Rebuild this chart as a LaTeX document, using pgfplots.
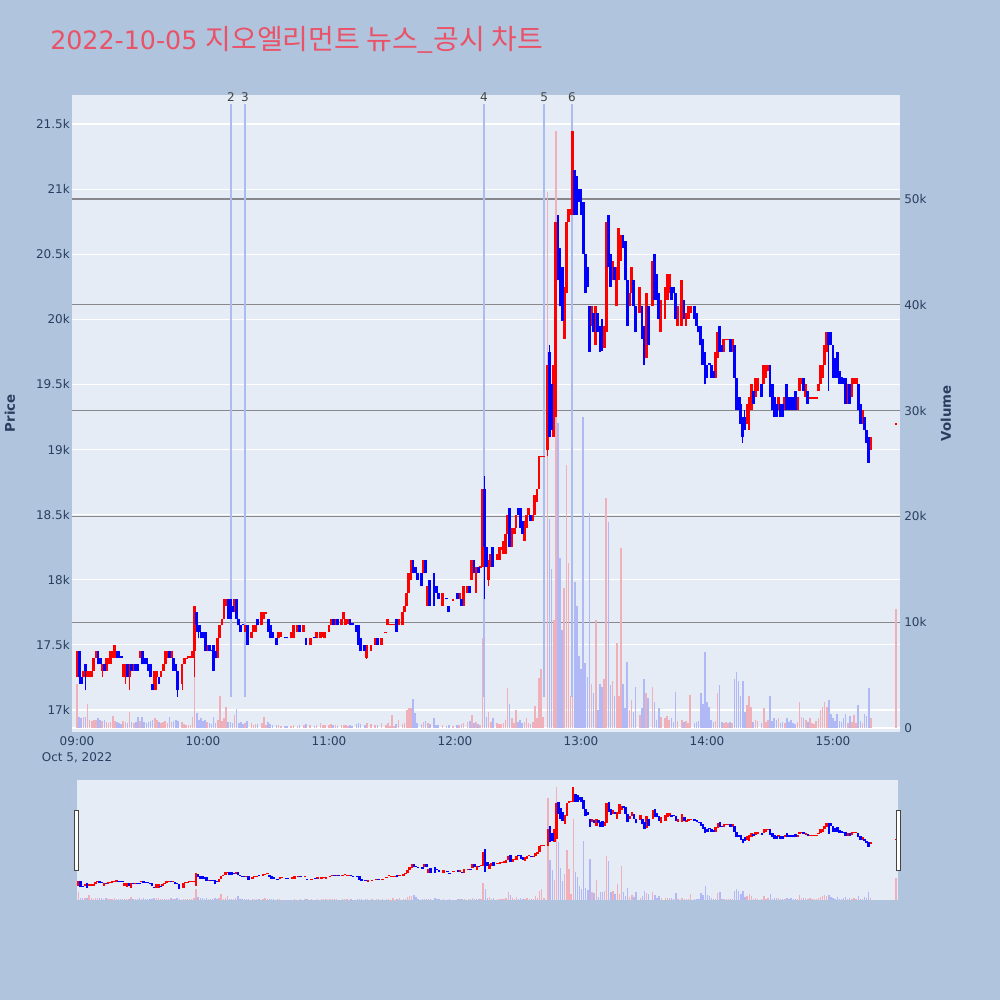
\documentclass[border=0pt]{standalone}
\usepackage{pgfplots}
\pgfplotsset{compat=1.18}
\usepackage{pgfplotstable}
\usepackage{fontspec}
\setmainfont{DejaVu Sans}
\newfontfamily\kr{Noto Sans CJK KR}
\definecolor{bgc}{RGB}{176,196,222}
\definecolor{plotbg}{RGB}{229,236,246}
\definecolor{tickc}{RGB}{42,63,95}
\definecolor{titlec}{RGB}{233,82,103}
\definecolor{vgray}{RGB}{135,135,140}
\definecolor{evline}{RGB}{172,188,240}
\definecolor{volred}{RGB}{240,176,186}
\definecolor{volblue}{RGB}{176,184,246}
\definecolor{labc}{RGB}{68,68,68}
\pgfplotstableread{
t o h l c v
0 17250 17450 17250 17450 4200
1 17450 17450 17200 17250 1000
2 17250 17250 17200 17200 900
3 17250 17300 17250 17300 1000
4 17350 17350 17150 17300 1000
5 17250 17300 17250 17300 2300
6 17250 17300 17250 17300 800
7 17250 17300 17250 17300 700
8 17300 17400 17300 17400 800
9 17400 17450 17400 17450 800
10 17450 17450 17350 17350 900
11 17400 17400 17350 17350 800
12 17300 17350 17250 17350 700
13 17350 17350 17300 17300 800
14 17300 17400 17300 17400 600
15 17350 17400 17350 17400 500
16 17350 17450 17350 17450 600
17 17400 17450 17400 17450 1100
18 17400 17500 17400 17500 700
19 17450 17450 17400 17400 600
20 17450 17450 17400 17400 500
21 17410 17410 17400 17400 400
22 17250 17350 17250 17350 700
23 17300 17350 17200 17350 600
24 17350 17350 17250 17250 500
25 17250 17350 17150 17350 1500
26 17350 17350 17300 17300 600
27 17300 17350 17300 17350 500
28 17350 17350 17300 17300 600
29 17350 17350 17300 17300 1000
30 17400 17450 17400 17450 700
31 17450 17450 17350 17350 1000
32 17400 17400 17350 17350 600
33 17400 17400 17350 17350 500
34 17350 17350 17300 17300 600
35 17350 17350 17250 17250 700
36 17200 17200 17150 17150 800
37 17150 17300 17150 17300 900
38 17250 17300 17150 17300 800
39 17250 17250 17200 17200 600
40 17250 17300 17250 17300 500
41 17300 17350 17300 17350 600
42 17350 17450 17350 17450 700
43 17400 17450 17400 17450 500
44 17450 17450 17400 17400 1000
45 17400 17450 17400 17450 600
46 17400 17400 17300 17300 700
47 17350 17350 17300 17300 800
48 17300 17300 17100 17150 700
50 17200 17350 17150 17350 600
51 17350 17400 17350 17400 400
52 17390 17400 17390 17400 300
53 17400 17410 17400 17410 300
54 17400 17410 17400 17410 300
55 17400 17450 17400 17450 1000
56 17450 17800 17250 17800 5500
57 17750 17750 17600 17650 1400
58 17650 17650 17550 17600 800
59 17600 17650 17550 17550 900
60 17600 17600 17550 17550 700
61 17600 17600 17450 17450 800
62 17450 17500 17450 17500 600
63 17500 17500 17450 17450 500
64 17460 17460 17450 17450 400
65 17500 17500 17300 17300 1000
66 17450 17450 17400 17400 500
67 17400 17550 17400 17550 800
68 17550 17650 17550 17650 3000
69 17650 17700 17650 17700 700
70 17700 17850 17700 17850 900
71 17800 17850 17800 17850 2000
72 17850 17850 17700 17700 600
73 17850 17850 17700 17700 600
74 17800 17800 17750 17750 500
75 17750 17850 17750 17850 1200
76 17850 17850 17700 17700 1800
77 17700 17700 17650 17650 500
78 17650 17650 17600 17600 600
79 17660 17660 17650 17650 400
80 17600 17650 17600 17650 500
81 17650 17650 17500 17500 700
83 17550 17600 17550 17600 500
84 17600 17650 17600 17650 300
85 17600 17650 17600 17650 400
86 17700 17700 17650 17650 400
88 17650 17750 17650 17750 500
89 17700 17750 17700 17750 1000
90 17740 17750 17740 17750 300
91 17700 17700 17600 17600 600
92 17650 17650 17550 17550 400
93 17600 17600 17550 17550 300
95 17550 17550 17500 17500 300
96 17550 17600 17550 17600 300
97 17560 17600 17560 17600 200
99 17560 17560 17550 17550 200
100 17560 17560 17550 17550 200
102 17550 17600 17550 17600 200
103 17550 17650 17550 17650 300
105 17600 17650 17600 17650 200
106 17650 17650 17600 17600 300
108 17600 17650 17600 17650 300
109 17550 17550 17500 17500 400
111 17500 17550 17500 17550 300
113 17560 17560 17550 17550 200
114 17550 17600 17550 17600 300
116 17550 17600 17550 17600 500
117 17560 17600 17560 17600 300
118 17550 17600 17550 17600 300
120 17600 17650 17600 17650 300
121 17650 17700 17650 17700 400
122 17700 17700 17650 17650 300
123 17650 17700 17650 17700 300
124 17700 17700 17650 17650 200
126 17650 17700 17650 17700 300
127 17700 17750 17700 17750 300
128 17650 17700 17650 17700 300
129 17660 17700 17660 17700 200
130 17700 17700 17650 17650 300
131 17670 17670 17650 17650 200
133 17650 17650 17600 17600 400
134 17650 17650 17500 17500 500
135 17550 17550 17450 17450 400
137 17500 17500 17450 17450 300
138 17400 17500 17390 17500 500
140 17450 17500 17450 17500 400
142 17500 17550 17500 17550 300
143 17550 17550 17500 17500 300
145 17500 17550 17500 17550 500
147 17590 17600 17590 17600 300
148 17650 17700 17650 17700 500
149 17650 17660 17650 17660 200
150 17650 17660 17650 17660 1200
151 17650 17660 17650 17660 200
152 17700 17700 17600 17600 400
153 17650 17700 17650 17700 750
155 17650 17750 17650 17750 400
156 17750 17800 17750 17800 500
157 17800 17900 17800 17900 1700
158 17900 18050 17900 18050 1900
159 18000 18150 18000 18150 1900
160 18150 18150 18050 18050 2700
161 18100 18100 18050 18050 1400
162 18050 18050 18000 18000 500
164 18050 18050 17950 17950 400
165 18050 18150 18050 18150 600
166 18150 18150 18050 18050 700
167 17800 17950 17800 17950 500
168 18000 18000 17800 17800 400
170 18050 18050 17800 17800 900
171 17950 17950 17900 17900 300
172 17900 17900 17850 17850 300
174 17800 17900 17800 17900 300
176 17860 17860 17850 17850 200
177 17800 17800 17750 17750 300
179 17840 17850 17840 17850 200
181 17900 17900 17850 17850 300
182 17850 17900 17850 17900 300
183 17850 17850 17800 17800 400
184 17800 17950 17800 17950 500
186 17900 17950 17900 17950 600
187 17950 17950 17900 17900 700
188 18000 18150 18000 18150 1200
189 18150 18150 18050 18050 500
190 17900 18100 17900 18100 600
191 18100 18100 18050 18050 400
192 18090 18100 18090 18100 300
193 18100 18700 18100 18700 8500
194 18700 18800 17850 18250 5500
195 18250 18250 18100 18100 1000
196 18000 18150 17950 18150 1500
197 18100 18200 18100 18200 600
198 18250 18250 18100 18100 900
200 18150 18200 18150 18200 500
201 18150 18250 18150 18250 400
202 18230 18250 18230 18250 400
203 18200 18300 18200 18300 500
204 18200 18350 18200 18350 800
205 18350 18500 18350 18500 3800
206 18550 18550 18250 18250 2300
207 18250 18400 18250 18400 900
208 18350 18400 18350 18400 500
209 18400 18500 18350 18500 1700
210 18550 18550 18500 18500 600
211 18550 18550 18400 18400 800
212 18450 18450 18350 18350 500
213 18300 18450 18300 18450 600
214 18400 18500 18400 18500 900
215 18500 18550 18500 18550 500
216 18500 18500 18450 18450 400
217 18450 18500 18450 18500 600
218 18500 18650 18500 18650 2100
219 18600 18700 18600 18700 900
220 18700 18950 18700 18950 4700
221 18940 18950 18940 18950 5600
222 18940 18950 18940 18950 1000
224 19000 19650 18950 19650 50700
225 19750 19800 19100 19100 19800
226 19500 19500 19150 19150 15000
227 19100 19650 19100 19650 10200
228 19250 20750 19250 20750 56400
229 20800 20800 20300 20300 28800
230 20550 20550 20100 20100 16100
231 20400 20400 19990 19990 9300
232 19850 20250 19850 20250 13200
233 20200 20750 20200 20750 24900
234 20750 20850 20750 20850 15600
235 20800 20850 20800 20850 3000
236 20800 21450 20800 21450 40200
237 21150 21150 20800 20800 13800
238 21100 21100 20800 20800 11500
239 21000 21000 20900 20900 6800
240 21000 21000 20800 20800 5600
241 20900 20900 20500 20500 29400
242 20500 20500 20200 20200 6100
243 20400 20400 20250 20250 4800
244 20100 20100 19750 19750 20300
245 19950 20100 19950 20100 4200
246 20050 20050 19900 19900 3300
247 19800 20100 19800 20100 10200
248 20050 20050 19900 19900 1700
249 19950 19950 19750 19750 4200
250 20000 20000 19760 19760 3900
251 19780 19950 19780 19950 4600
252 19900 20750 19900 20750 21700
253 20800 20800 20400 20400 19500
254 20500 20500 20250 20250 4100
255 20300 20450 20300 20450 4400
256 20400 20400 20300 20300 3000
257 20100 20400 20100 20400 8000
258 20300 20700 20300 20700 3000
259 20450 20650 20450 20650 17000
260 20650 20650 20550 20600 4200
261 20600 20600 20300 20300 1900
262 20300 20300 19950 19950 6200
263 20100 20200 20100 20200 1700
264 20200 20400 20200 20400 2600
265 20300 20300 20100 20100 1500
266 20100 20100 19900 19900 3900
268 20050 20250 20050 20250 1200
269 20100 20100 19850 19850 1850
270 19950 19950 19650 19650 4600
271 19700 20200 19700 20200 3300
272 20100 20100 19800 19800 2800
274 20100 20450 20100 20450 3900
275 20500 20500 20150 20150 2500
276 20350 20350 20150 20150 800
277 20200 20200 20000 20000 1850
278 19900 20150 19900 20150 1000
280 20000 20250 20000 20250 900
281 20150 20350 20150 20350 1100
282 20200 20350 20200 20350 800
283 20250 20250 20150 20150 900
284 20250 20250 20200 20200 600
285 20200 20200 20000 20000 3400
286 19950 20100 19950 20100 700
288 19950 20300 19950 20300 800
289 20150 20150 20000 20000 600
290 19950 20050 19950 20050 700
291 20000 20100 20000 20100 500
292 20050 20100 20050 20100 3100
294 20100 20100 20000 20000 500
295 20050 20050 19950 19950 600
296 19950 19950 19900 19900 700
297 19950 19950 19800 19800 3300
298 19850 19850 19650 19650 2300
299 19750 19750 19500 19500 7200
300 19650 19650 19550 19550 2500
301 19660 19660 19650 19650 2000
302 19650 19650 19550 19550 800
303 19600 19600 19550 19550 600
304 19550 19750 19550 19750 700
305 19700 19900 19700 19900 3300
306 19950 19950 19750 19750 4100
307 19800 19800 19750 19750 600
308 19750 19850 19750 19850 500
309 19840 19850 19840 19850 600
310 19840 19850 19840 19850 500
311 19850 19850 19750 19750 600
312 19750 19850 19750 19850 500
313 19800 19800 19550 19550 4600
314 19550 19550 19300 19300 5300
315 19400 19400 19300 19300 4400
316 19350 19400 19200 19200 3000
317 19250 19250 19050 19100 4400
318 19250 19300 19150 19150 1500
319 19200 19350 19200 19350 2200
320 19150 19400 19150 19400 3000
321 19300 19500 19300 19500 2000
322 19450 19450 19350 19350 600
323 19400 19550 19400 19550 800
324 19450 19550 19450 19550 700
326 19500 19500 19400 19400 500
327 19500 19650 19500 19650 1900
328 19550 19650 19550 19650 600
329 19600 19650 19600 19650 800
330 19650 19650 19400 19400 3000
331 19500 19500 19300 19300 700
332 19400 19400 19250 19250 900
333 19350 19350 19250 19250 800
334 19300 19400 19300 19400 900
335 19350 19350 19250 19250 500
336 19350 19350 19250 19250 600
337 19300 19400 19300 19400 500
338 19500 19500 19300 19300 900
339 19400 19400 19300 19300 600
340 19400 19400 19300 19300 800
341 19400 19400 19300 19300 500
342 19450 19450 19300 19300 400
343 19300 19400 19300 19400 600
344 19450 19550 19450 19550 2500
345 19500 19550 19500 19550 1000
346 19550 19550 19450 19450 900
347 19400 19500 19400 19500 800
348 19450 19450 19350 19350 600
349 19390 19400 19390 19400 900
350 19390 19400 19390 19400 500
351 19390 19400 19390 19400 400
352 19390 19400 19390 19400 700
353 19450 19500 19450 19500 900
354 19500 19650 19500 19650 1700
355 19550 19650 19550 19650 2000
356 19650 19800 19650 19800 2500
357 19750 19900 19750 19900 2000
358 19900 19900 19450 19800 2600
359 19900 19900 19800 19800 1300
360 19800 19800 19550 19550 900
361 19700 19700 19550 19550 700
362 19750 19750 19550 19550 1300
363 19600 19600 19500 19500 700
364 19560 19560 19500 19500 600
365 19550 19550 19500 19500 900
366 19550 19550 19350 19350 1300
367 19350 19500 19350 19500 500
368 19500 19500 19350 19350 1100
369 19400 19550 19400 19550 600
370 19500 19550 19500 19550 1200
371 19500 19550 19500 19550 500
372 19500 19500 19300 19300 2200
373 19350 19350 19200 19200 700
374 19200 19300 19200 19300 500
375 19250 19250 19150 19150 1300
376 19150 19150 19050 19050 1100
377 19100 19100 18900 18900 3800
378 19000 19100 19000 19100 900
390 19190 19200 19190 19200 11200
}\data

\pgfplotsset{
  mainpos/.style={at={(54pt,201pt)}, anchor=south west, width=621pt, height=477.75pt,
    scale only axis, xmin=-2.4, xmax=391.9, axis line style={draw=none},
    scaled ticks=false,
    major tick length=0pt, tick label style={font=\fontsize{9}{12}\selectfont, text=tickc}},
  slidepos/.style={at={(57.4pt,75pt)}, anchor=south west, width=616.1pt, height=90pt,
    scale only axis, xmin=-1, xmax=391, axis line style={draw=none}, scaled ticks=false,
    xtick=\empty, ytick=\empty, major tick length=0pt, clip=false},
  upf/.style={restrict expr to domain={\thisrow{c}-\thisrow{o}}{0:100000}},
  dnf/.style={restrict expr to domain={\thisrow{o}-\thisrow{c}}{0.5:100000}},
  ebar/.style 2 args={draw=none, mark=none, forget plot, error bars/.cd, y dir=plus, y explicit,
    error mark=none, error bar style={draw=#1, line width=#2, line cap=butt}},
}

\begin{document}
\begin{tikzpicture}
\fill[bgc] (0,0) rectangle (750pt,750pt);
\node[anchor=base west, inner sep=0pt, text=titlec] at (37.5pt,712.5pt)
  {\fontsize{19}{22}\selectfont 2022-10-05 {\kr\fontsize{21}{24}\selectfont 지오엘리먼트 뉴스\_공시 차트}};
\node[rotate=90, font=\bfseries\fontsize{10}{12}\selectfont, text=tickc] at (7.5pt,440pt) {Price};
\node[rotate=90, font=\bfseries\fontsize{10}{12}\selectfont, text=tickc] at (709.5pt,440pt) {Volume};

% price axis: background, white grid, labels
\begin{axis}[mainpos, ymin=16831, ymax=21723,
  axis background/.style={fill=plotbg},
  ytick={17000,17500,...,21500},
  yticklabels={17k,17.5k,18k,18.5k,19k,19.5k,20k,20.5k,21k,21.5k},
  yticklabel style={anchor=east, inner sep=0pt, xshift=-1.5pt},
  ymajorgrids, grid style={white, line width=0.9pt},
  xtick={0,60,...,360},
  xticklabels={{09:00\\Oct 5, 2022},10:00,11:00,12:00,13:00,14:00,15:00},
  xticklabel style={align=center, anchor=north, inner sep=0pt, yshift=-3pt}]
\addplot[draw=none, forget plot] coordinates {(0,17000)};
\end{axis}

% volume axis: gray grid, right labels, bars
\begin{axis}[mainpos, ymin=-378, ymax=59830,
  axis x line=none, axis y line*=right,
  ytick={10000,20000,...,50000}, yticklabels={10k,20k,30k,40k,50k},
  extra y ticks={0}, extra y tick labels={0},
  extra y tick style={grid style={white, line width=1.2pt}},
  yticklabel style={anchor=west, inner sep=0pt, xshift=3pt},
  ymajorgrids, grid style={vgray, line width=0.8pt}]
\addplot[upf, ebar={volred}{1.2pt}] table[x=t, y expr=0, y error expr=\thisrow{v}] {\data};
\addplot[dnf, ebar={volblue}{1.2pt}] table[x=t, y expr=0, y error expr=\thisrow{v}] {\data};
\end{axis}

% candles + event lines
\begin{axis}[mainpos, ymin=16831, ymax=21723, axis x line=none, axis y line=none, clip=false]
\foreach \m/\lab in {73.3/2, 80/3, 193.8/4, 222.4/5, 235.7/6}{
  \edef\tmp{\noexpand\addplot[evline, line width=1.1pt, forget plot] coordinates {(\m,17100) (\m,21655)};
  \noexpand\node[font=\noexpand\fontsize{9}{10}\noexpand\selectfont, text=labc, inner sep=0pt] at (axis cs:\m,21707) {\lab};}
  \tmp
}
\addplot[upf, ebar={red}{0.8pt}] table[x=t, y=l, y error expr=\thisrow{h}-\thisrow{l}] {\data};
\addplot[upf, ebar={red}{2.1pt}] table[x=t, y expr={min(\thisrow{o},\thisrow{c})}, y error expr={max(abs(\thisrow{c}-\thisrow{o}),12)}] {\data};
\addplot[dnf, ebar={blue}{0.8pt}] table[x=t, y=l, y error expr=\thisrow{h}-\thisrow{l}] {\data};
\addplot[dnf, ebar={blue}{2.1pt}] table[x=t, y expr={min(\thisrow{o},\thisrow{c})}, y error expr={max(abs(\thisrow{c}-\thisrow{o}),12)}] {\data};
\end{axis}

% range slider
\begin{axis}[slidepos, ymin=0, ymax=59800, axis background/.style={fill=plotbg}]
\addplot[upf, ebar={volred}{1pt}] table[x=t, y expr=0, y error expr=\thisrow{v}] {\data};
\addplot[dnf, ebar={volblue}{1pt}] table[x=t, y expr=0, y error expr=\thisrow{v}] {\data};
\end{axis}
\begin{axis}[slidepos, ymin=16640, ymax=21740]
\addplot[upf, ebar={red}{1.9pt}] table[x=t, y=l, y error expr={max(\thisrow{h}-\thisrow{l},30)}] {\data};
\addplot[dnf, ebar={blue}{1.9pt}] table[x=t, y=l, y error expr={max(\thisrow{h}-\thisrow{l},30)}] {\data};
\end{axis}
\draw[fill=white, draw=labc, line width=0.6pt] (55.5pt,97.5pt) rectangle (58.5pt,142.5pt);
\draw[fill=white, draw=labc, line width=0.6pt] (672.2pt,97.5pt) rectangle (675.2pt,142.5pt);
\end{tikzpicture}
\end{document}
